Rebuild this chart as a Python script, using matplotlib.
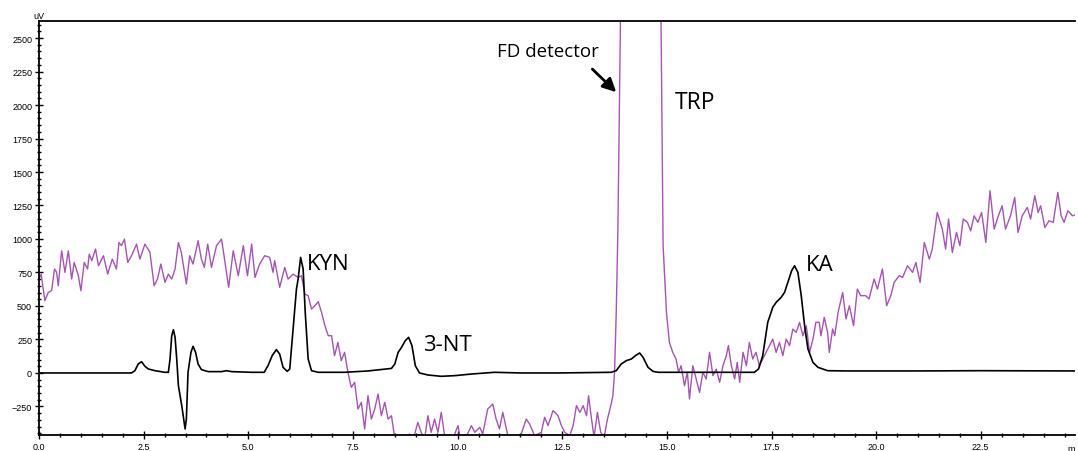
import numpy as np
import matplotlib.pyplot as plt
from matplotlib.ticker import MultipleLocator

# FD detector trace (purple): time (min), signal (uV)
pur_t = [0.00, 0.05, 0.14, 0.22, 0.30, 0.37, 0.42, 0.46, 0.54, 0.62, 0.70, 0.78, 0.84, 0.94,
         1.00, 1.08, 1.16, 1.20, 1.26, 1.35, 1.42, 1.54, 1.64, 1.75, 1.85, 1.91, 1.97, 2.04,
         2.12, 2.21, 2.33, 2.41, 2.53, 2.65, 2.75, 2.83, 2.91, 3.01, 3.09, 3.17, 3.25, 3.33,
         3.40, 3.52, 3.60, 3.68, 3.80, 3.88, 3.95, 4.03, 4.12, 4.24, 4.36, 4.42, 4.53, 4.64,
         4.76, 4.88, 4.98, 5.08, 5.16, 5.27, 5.39, 5.51, 5.59, 5.63, 5.75, 5.87, 5.95, 6.07,
         6.19, 6.27, 6.35, 6.43, 6.51, 6.59, 6.67, 6.75, 6.83, 6.91, 6.99, 7.06, 7.14, 7.22,
         7.30, 7.38, 7.46, 7.54, 7.62, 7.70, 7.78, 7.86, 7.94, 8.02, 8.10, 8.18, 8.26, 8.34,
         8.42, 8.50, 8.66, 8.85, 8.93, 9.05, 9.13, 9.21, 9.29, 9.37, 9.45, 9.53, 9.61, 9.69,
         9.85, 10.01, 10.05, 10.17, 10.33, 10.41, 10.53, 10.60, 10.72, 10.84, 10.92, 11.00,
         11.08, 11.20, 11.36, 11.52, 11.64, 11.72, 11.84, 12.00, 12.08, 12.16, 12.28, 12.40,
         12.48, 12.56, 12.68, 12.76, 12.84, 12.92, 13.00, 13.08, 13.13, 13.20, 13.26, 13.34,
         13.42, 13.50, 13.58, 13.66, 13.71, 13.75, 13.79, 13.83, 13.89, 13.95, 14.40, 14.80,
         14.86, 14.91, 14.99, 15.06, 15.14, 15.22, 15.28, 15.34, 15.42, 15.49, 15.54, 15.62,
         15.70, 15.78, 15.86, 15.94, 16.02, 16.10, 16.18, 16.26, 16.34, 16.42, 16.47, 16.54,
         16.62, 16.68, 16.74, 16.82, 16.90, 16.97, 17.05, 17.13, 17.21, 17.29, 17.37, 17.45,
         17.53, 17.61, 17.69, 17.77, 17.85, 17.93, 18.01, 18.09, 18.17, 18.25, 18.33, 18.41,
         18.49, 18.56, 18.64, 18.68, 18.76, 18.84, 18.88, 18.96, 19.01, 19.09, 19.20, 19.28,
         19.36, 19.46, 19.55, 19.63, 19.75, 19.83, 19.95, 20.03, 20.15, 20.25, 20.35, 20.43,
         20.55, 20.63, 20.75, 20.87, 20.95, 21.05, 21.15, 21.27, 21.34, 21.46, 21.58, 21.66,
         21.73, 21.82, 21.92, 22.00, 22.08, 22.18, 22.26, 22.34, 22.43, 22.52, 22.62, 22.72,
         22.82, 22.92, 23.01, 23.09, 23.21, 23.31, 23.39, 23.49, 23.61, 23.69, 23.79, 23.87,
         23.93, 24.03, 24.13, 24.23, 24.34, 24.42, 24.49, 24.58, 24.69, 24.80]
pur_v = [701, 738, 539, 601, 614, 776, 751, 651, 912, 751, 912, 701, 825, 726,
         614, 825, 776, 887, 838, 925, 800, 875, 738, 850, 776, 974, 950, 999,
         825, 875, 962, 850, 962, 900, 651, 701, 813, 676, 738, 701, 776, 974,
         900, 664, 875, 813, 987, 850, 788, 962, 788, 950, 999, 875, 639, 912,
         726, 950, 726, 962, 713, 813, 875, 863, 751, 838, 639, 788, 701, 738,
         713, 726, 589, 577, 477, 502, 532, 452, 353, 278, 278, 129, 228, 92,
         154, 5, -107, -70, -269, -219, -418, -170, -344, -269, -157, -319, -219, -344,
         -319, -490, -520, -456, -510, -369, -443, -500, -319, -443, -344, -443, -294, -468,
         -520, -393, -468, -500, -393, -443, -406, -456, -269, -232, -344, -418,
         -294, -468, -480, -456, -344, -381, -468, -443, -331, -393, -281, -319,
         -393, -443, -468, -393, -244, -294, -244, -319, -170, -344, -480, -294,
         -443, -480, -344, -244, -170, 5, 452, 1074, 2627, 4000, 4300, 4000,
         2627, 950, 452, 228, 154, 104, 5, 54, -95, 5, -194, 54,
         -45, -145, 5, -45, 154, -20, 29, -70, 54, 129, 204, 54,
         -45, 79, -70, 154, 54, 228, 104, 154, 54, 104, 154, 204,
         253, 154, 228, 129, 253, 204, 328, 303, 378, 278, 353, 154,
         253, 378, 378, 278, 415, 303, 154, 328, 278, 452, 601, 403,
         502, 353, 626, 577, 577, 552, 701, 626, 776, 502, 577, 676,
         726, 713, 800, 751, 825, 676, 974, 850, 925, 1198, 1074, 925,
         1149, 900, 1049, 950, 1149, 1124, 1061, 1173, 1124, 1198, 974, 1360,
         1074, 1173, 1248, 1074, 1173, 1310, 1049, 1173, 1236, 1149, 1323, 1198,
         1248, 1086, 1136, 1124, 1348, 1173, 1124, 1211, 1173, 1186]

# UV / main detector trace (black)
blk_t = [0.00, 2.21, 2.29, 2.37, 2.45, 2.53, 2.61, 2.77, 3.01, 3.09, 3.13, 3.17, 3.21, 3.25,
         3.29, 3.33, 3.41, 3.49, 3.52, 3.56, 3.63, 3.68, 3.74, 3.80, 3.88, 4.04, 4.36, 4.48,
         4.60, 5.08, 5.38, 5.47, 5.57, 5.67, 5.75, 5.83, 5.93, 5.99, 6.07, 6.15, 6.19, 6.25,
         6.31, 6.36, 6.43, 6.51, 6.67, 7.30, 7.86, 8.42, 8.50, 8.58, 8.66, 8.75, 8.83, 8.91,
         8.99, 9.09, 9.29, 9.61, 9.93, 10.33, 10.88, 11.52, 12.40, 13.67, 13.79, 13.91, 14.03,
         14.15, 14.27, 14.35, 14.43, 14.55, 14.67, 14.79, 17.09, 17.19, 17.29, 17.41, 17.53,
         17.61, 17.73, 17.81, 17.89, 17.98, 18.05, 18.13, 18.21, 18.29, 18.37, 18.49, 18.61,
         18.84, 19.32, 20.91, 22.50, 24.80]
blk_v = [0, 0, 17, 67, 84, 50, 30, 17, 5, 5, 104, 278, 323, 266,
         104, -95, -244, -418, -344, 5, 154, 199, 154, 67, 25, 10, 10, 17,
         10, 5, 5, 54, 129, 174, 141, 42, 12, 30, 328, 626, 701, 863,
         776, 452, 104, 17, 5, 5, 15, 34, 67, 154, 191, 241, 266, 204,
         54, 0, -15, -25, -20, -8, 5, 0, 0, 5, 17, 67, 92,
         104, 134, 149, 117, 42, 12, 5, 5, 30, 129, 378, 490,
         527, 564, 601, 676, 763, 800, 751, 577, 353, 179, 79, 42,
         17, 15, 15, 17, 15]

xticks = [0.0, 2.5, 5.0, 7.5, 10.0, 12.5, 15.0, 17.5, 20.0, 22.5]
yticks = [-250, 0, 250, 500, 750, 1000, 1250, 1500, 1750, 2000, 2250, 2500]

fig = plt.figure(figsize=(10.78, 4.52), dpi=100)
ax = fig.add_axes([0.0362, 0.0354, 0.9610, 0.9159])

ax.plot(pur_t, pur_v, color='#a455b0', lw=1.0, zorder=2)
ax.plot(blk_t, blk_v, color='black', lw=1.2, zorder=3)

ax.set_xlim(0, 24.75)
ax.set_ylim(-463, 2627)
ax.set_xticks(xticks)
ax.set_xticklabels([f'{v:.1f}' for v in xticks])
ax.set_yticks(yticks)
ax.xaxis.set_minor_locator(MultipleLocator(0.5))
ax.yaxis.set_minor_locator(MultipleLocator(50))
ax.tick_params(which='major', direction='inout', length=6, width=1, labelsize=6.5,
               pad=2, colors='black')
ax.tick_params(which='minor', direction='inout', length=3, width=1)
for lab in ax.get_xticklabels() + ax.get_yticklabels():
    lab.set_family('Liberation Sans')
ax.spines['right'].set_visible(False)
for s in ['left', 'bottom', 'top']:
    ax.spines[s].set_linewidth(1.3)

ax.text(0, 1.003, 'uV', transform=ax.transAxes, ha='center', va='bottom',
        fontsize=6.5, family='Liberation Sans')
ax.text(24.58, -0.022, 'm', transform=ax.get_xaxis_transform(), ha='left', va='top',
        fontsize=6.5, family='Liberation Sans')

lab_font = dict(family='Open Sans', color='black')
ax.text(6.41, 815, 'KYN', fontsize=16, va='center', ha='left', **lab_font)
ax.text(9.17, 216, '3-NT', fontsize=16, va='center', ha='left', **lab_font)
ax.text(15.18, 2022, 'TRP', fontsize=16.5, va='center', ha='left', **lab_font)
ax.text(18.33, 813, 'KA', fontsize=16, va='center', ha='left', **lab_font)
ax.text(10.93, 2402, 'FD detector', fontsize=13.5, va='center', ha='left', **lab_font)
ax.annotate('', xy=(13.79, 2096), xytext=(13.22, 2268),
            arrowprops=dict(arrowstyle='-|>,head_length=0.8,head_width=0.4',
                            color='black', lw=2, shrinkA=0, shrinkB=0))

fig.savefig('out.png', dpi=100)
